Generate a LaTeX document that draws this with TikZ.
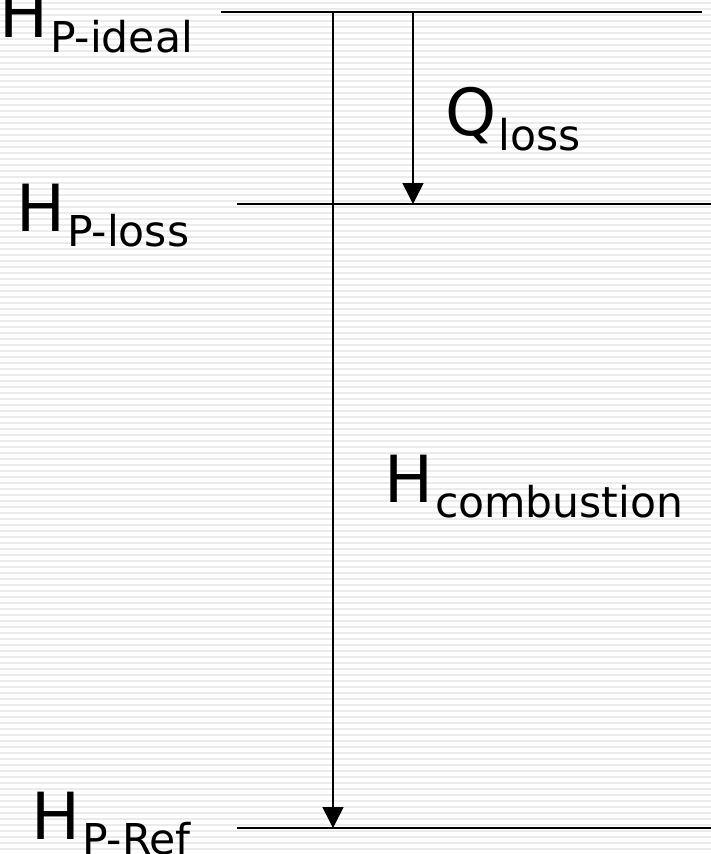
\documentclass[tikz,border=0pt]{standalone}
\usepackage{fontspec}
\setmainfont{DejaVu Sans}
\usetikzlibrary{arrows.meta}
\tikzset{
  level/.style={line width=1.6pt, black},
  flow/.style={line width=1.6pt, black, -{Triangle[width=21pt,length=21pt]}},
  lbl/.style={anchor=base west, inner sep=0pt, font=\fontsize{65}{65}\selectfont},
  stripe/.style={line width=1.1pt, black!8}
}
\newcommand{\subtxt}[1]{\kern2pt\raisebox{-15pt}{\fontsize{42.5}{42.5}\selectfont #1}}
\begin{document}
\begin{tikzpicture}[x=1pt,y=-1pt]
\useasboundingbox (0,0) rectangle (711,854);
\fill[white] (0,0) rectangle (711,854);
\foreach \k in {0,...,142} {
  \draw[stripe] (0,{3+6*\k}) -- (711,{3+6*\k});
}
% levels
\coordinate (topL) at (221,12);
\coordinate (topR) at (702,12);
\coordinate (midL) at (237,204);
\coordinate (midR) at (711,204);
\coordinate (botL) at (237,828);
\coordinate (botR) at (711,828);
\draw[level] (topL) -- (topR);
\draw[level] (midL) -- (midR);
\draw[level] (botL) -- (botR);
% arrows
\coordinate (a1s) at (333,12);
\coordinate (a1e) at (333,828);
\coordinate (a2s) at (413,12);
\coordinate (a2e) at (413,204);
\draw[flow] (a1s) -- (a1e);
\draw[flow] (a2s) -- (a2e);
% labels
\node[lbl] (hideal) at (-1,37) {H\subtxt{P-ideal}};
\node[lbl] (hloss) at (16,231) {H\subtxt{P-loss}};
\node[lbl] (href) at (31,839) {H\subtxt{P-Ref}};
\node[lbl] (qloss) at (445,135) {Q\subtxt{loss}};
\node[lbl] (hcomb) at (384,502) {H\subtxt{combustion}};
\end{tikzpicture}
\end{document}
